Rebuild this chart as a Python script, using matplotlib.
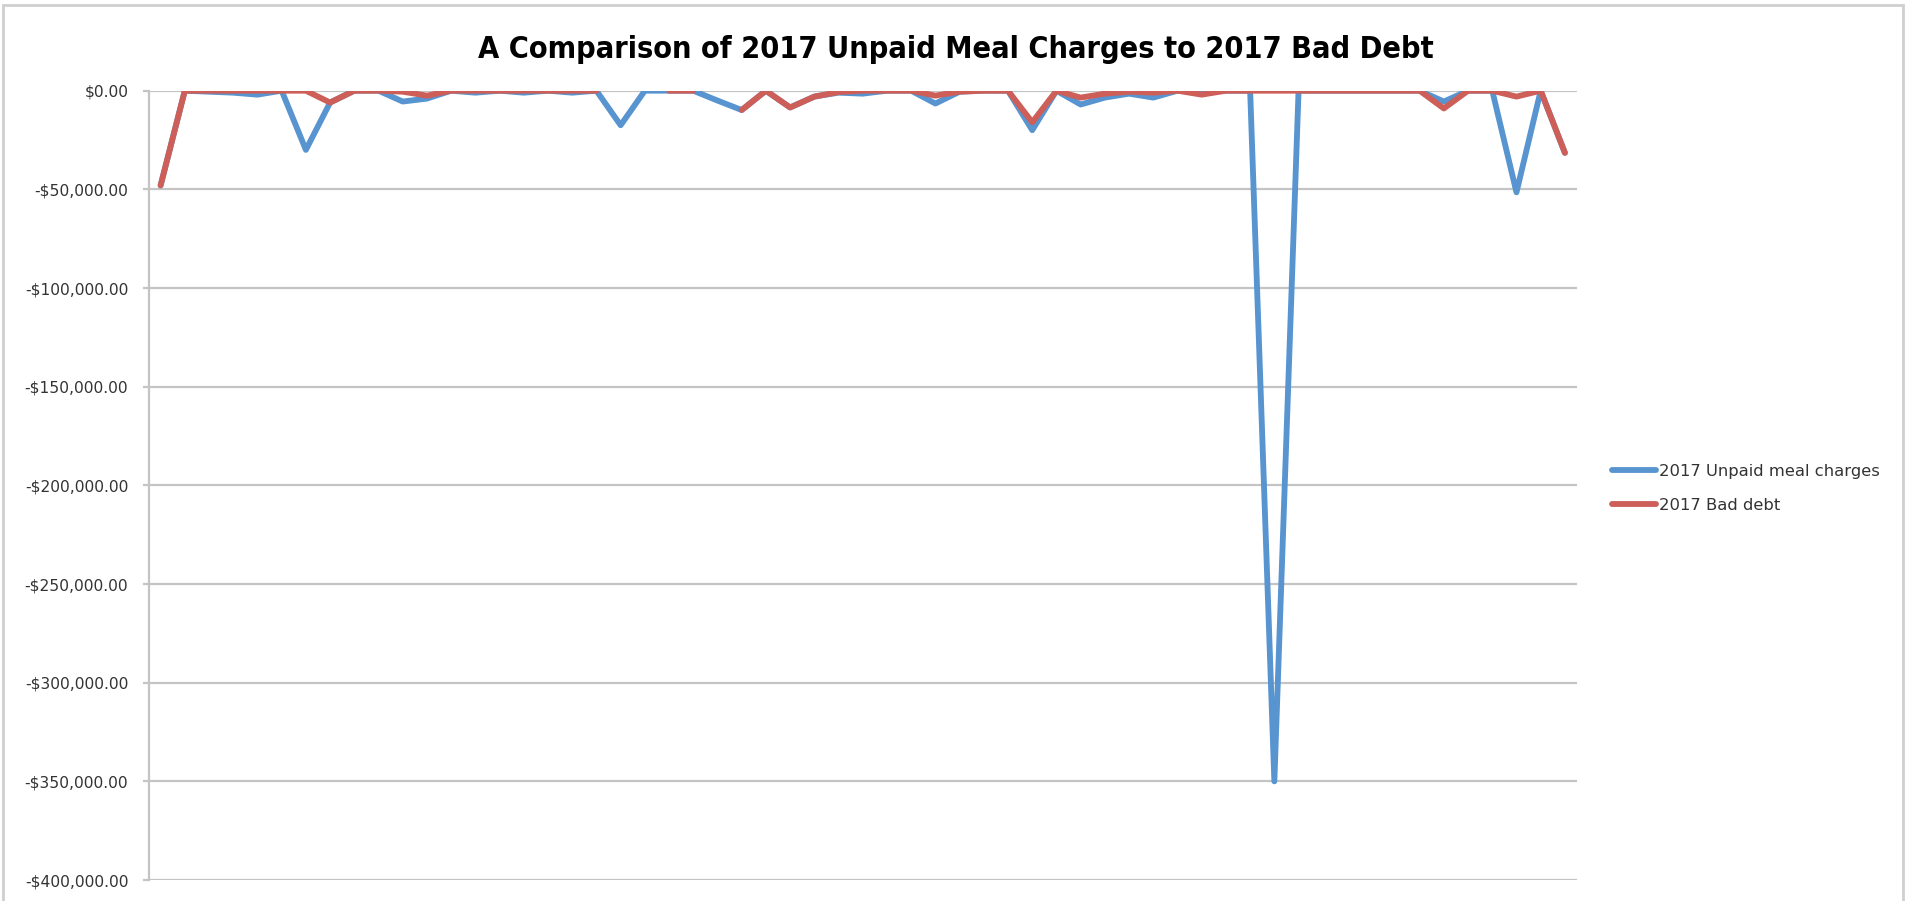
import numpy as np
import matplotlib
matplotlib.use("Agg")
import matplotlib.pyplot as plt
from matplotlib.patches import Rectangle
from matplotlib.ticker import FuncFormatter, MultipleLocator

# Per-district figures for 2017 (NaN = no value reported)
districts = list(range(1, 60))
unpaid_meal_charges = [
    -48000, 0, -500, -1000, -2000, 0, -30000, -6000, 0, 0,
    -5500, -4000, 0, -1000, 0, -1000, 0, -1000, 0, -17500,
    0, 0, 0, -5000, -9800, 0, -8500, -3000, -1000, -1500,
    0, 0, -6500, -500, 0, 0, -20000, 0, -7000, -3500,
    -1500, -3500, 0, 0, 0, 0, -350000, 0, 0, 0,
    0, 0, 0, -5500, 0, 0, -51500, 0, -31500,
]
bad_debt = [
    -48000, 0, 0, 0, 0, 0, 0, -6000, 0, 0,
    -500, -2500, 0, 0, 0, 0, 0, 0, 0, np.nan,
    np.nan, 0, 0, np.nan, -9800, 0, -8500, -3000, -700, 0,
    0, 0, -2500, -500, 0, 0, -16000, 0, -3500, -1500,
    -500, -1000, 0, -2000, 0, 0, 0, 0, 0, 0,
    0, 0, 0, -9000, 0, 0, -3000, 0, -31500,
]
series_labels = ["2017 Unpaid meal charges", "2017 Bad debt"]
title = "A Comparison of 2017 Unpaid Meal Charges to 2017 Bad Debt"

W, H = 1907, 901
fig = plt.figure(figsize=(W / 100, H / 100), dpi=100)
fig.patch.set_facecolor("white")

# plot area in pixel terms
left, right, top, bottom = 148.5, 1577, 90.7, 880
ax = fig.add_axes([left / W, 1 - bottom / H, (right - left) / W, (bottom - top) / H])

x = np.arange(len(districts))
blue = "#5794D0"
red = "#CD5E58"
line_kw = dict(lw=4.2, solid_joinstyle="round", solid_capstyle="round")
l1, = ax.plot(x, unpaid_meal_charges, color=blue, label=series_labels[0], zorder=3, **line_kw)
l2, = ax.plot(x, np.array(bad_debt, dtype=float), color=red, label=series_labels[1], zorder=4, **line_kw)

ax.set_xlim(-0.5, len(districts) - 0.5)
ax.set_ylim(-400000, 0)
ax.yaxis.set_major_locator(MultipleLocator(50000))


def money(v, pos):
    s = "${:,.2f}".format(abs(v))
    return "-" + s if v < 0 else s


ax.yaxis.set_major_formatter(FuncFormatter(money))
ax.set_xticks([])
ax.grid(axis="y", color="#C4C4C4", lw=1.6, zorder=1)
for side in ("top", "right", "bottom"):
    ax.spines[side].set_visible(False)
ax.spines["left"].set_color("#C4C4C4")
ax.spines["left"].set_linewidth(1.6)
ax.tick_params(axis="y", length=4.5, width=1.6, color="#C4C4C4", pad=10,
               labelsize=11.2, labelcolor="#333333")
for lab in ax.get_yticklabels():
    lab.set_fontfamily("DejaVu Sans")

fig.text(956 / W, 1 - 50 / H, title, ha="center", va="center",
         fontsize=22, fontweight="bold", fontstretch="condensed", color="black",
         family=["DejaVu Sans"])

fig.legend(handles=[l1, l2], loc="center left",
           bbox_to_anchor=(1612 / W, 1 - 488.5 / H), frameon=False,
           prop={"family": "DejaVu Sans", "size": 11.8},
           handlelength=2.7, handletextpad=0.15, labelspacing=1.15,
           borderpad=0, borderaxespad=0, labelcolor="#333333")

# chart area border
fig.add_artist(Rectangle((3 / W, -0.05), 1900 / W, 1.05 - 5 / H,
                         transform=fig.transFigure, fill=False,
                         edgecolor="#CFCFCF", lw=2))

fig.savefig("out.png", dpi=100, facecolor="white")
